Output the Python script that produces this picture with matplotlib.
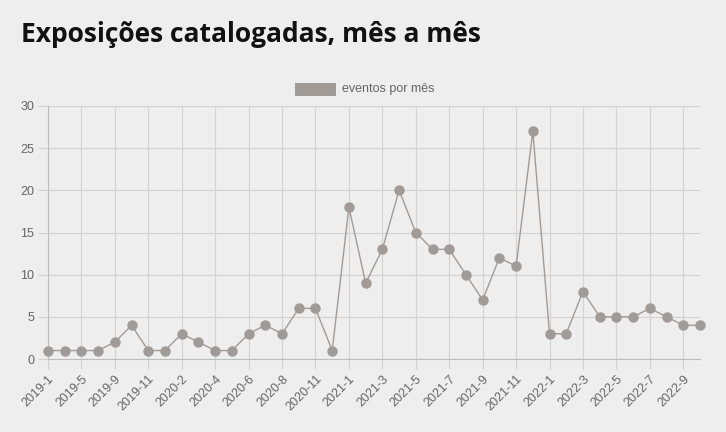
import matplotlib
matplotlib.use("Agg")
import matplotlib.pyplot as plt
from matplotlib.patches import Rectangle

months = ["2019-1", "2019-3", "2019-5", "2019-7", "2019-9", "2019-10", "2019-11", "2019-12",
          "2020-2", "2020-3", "2020-4", "2020-5", "2020-6", "2020-7", "2020-8", "2020-10",
          "2020-11", "2020-12", "2021-1", "2021-2", "2021-3", "2021-4", "2021-5", "2021-6",
          "2021-7", "2021-8", "2021-9", "2021-10", "2021-11", "2021-12", "2022-1", "2022-2",
          "2022-3", "2022-4", "2022-5", "2022-6", "2022-7", "2022-8", "2022-9", "2022-10"]
eventos = [1, 1, 1, 1, 2, 4, 1, 1, 3, 2, 1, 1, 3, 4, 3, 6, 6, 1, 18, 9,
           13, 20, 15, 13, 13, 10, 7, 12, 11, 27, 3, 3, 8, 5, 5, 5, 6, 5, 4, 4]
y_ticks = [0, 5, 10, 15, 20, 25, 30]

bg = "#eeeeee"
col = "#a19b97"
grid = "#d2d2d2"
txt = "#666666"

fig = plt.figure(figsize=(7.26, 4.32), dpi=100, facecolor=bg)
ax = fig.add_axes([48/726, 73/432, 652/726, 253/432], facecolor=bg)

x = list(range(len(eventos)))
ax.plot(x, eventos, color=col, lw=1, marker="o", ms=6.5, mfc=col, mec=col, clip_on=False, zorder=3)

ax.set_xlim(0, len(eventos) - 1)
ax.set_ylim(0, 30)
ax.set_yticks(y_ticks)
ax.set_yticklabels([str(v) for v in y_ticks], fontfamily="Liberation Sans", fontsize=9, color=txt)
shown = x[::2]
ax.set_xticks(shown)
ax.set_xticklabels([months[i] for i in shown], rotation=45, ha="right", rotation_mode="anchor",
                   fontfamily="Liberation Sans", fontsize=9, color=txt)
ax.tick_params(axis="both", length=7, color=grid, pad=3)
ax.grid(True, color=grid, lw=0.8)
ax.set_axisbelow(True)
for s in ["top", "right"]:
    ax.spines[s].set_visible(False)
ax.spines["left"].set_color("#bdbdbd")
ax.spines["bottom"].set_color("#bdbdbd")
ax.spines["left"].set_linewidth(0.8)
ax.spines["bottom"].set_linewidth(0.8)
ax.axhline(30, color=grid, lw=0.8, zorder=0)

fig.text(21/726, 1 - 35/432, "Exposições catalogadas, mês a mês", fontfamily="Open Sans",
         fontweight="bold", fontsize=19, color="#111111", va="center", ha="left")

fig.patches.append(Rectangle((295/726, 1 - 96/432), 41/726, 13/432, transform=fig.transFigure,
                             facecolor=col, edgecolor="none"))
fig.text(342/726, 1 - 89/432, "eventos por mês", fontfamily="Liberation Sans", fontsize=9,
         color=txt, va="center", ha="left")

fig.savefig("out.png", dpi=100, facecolor=bg)
